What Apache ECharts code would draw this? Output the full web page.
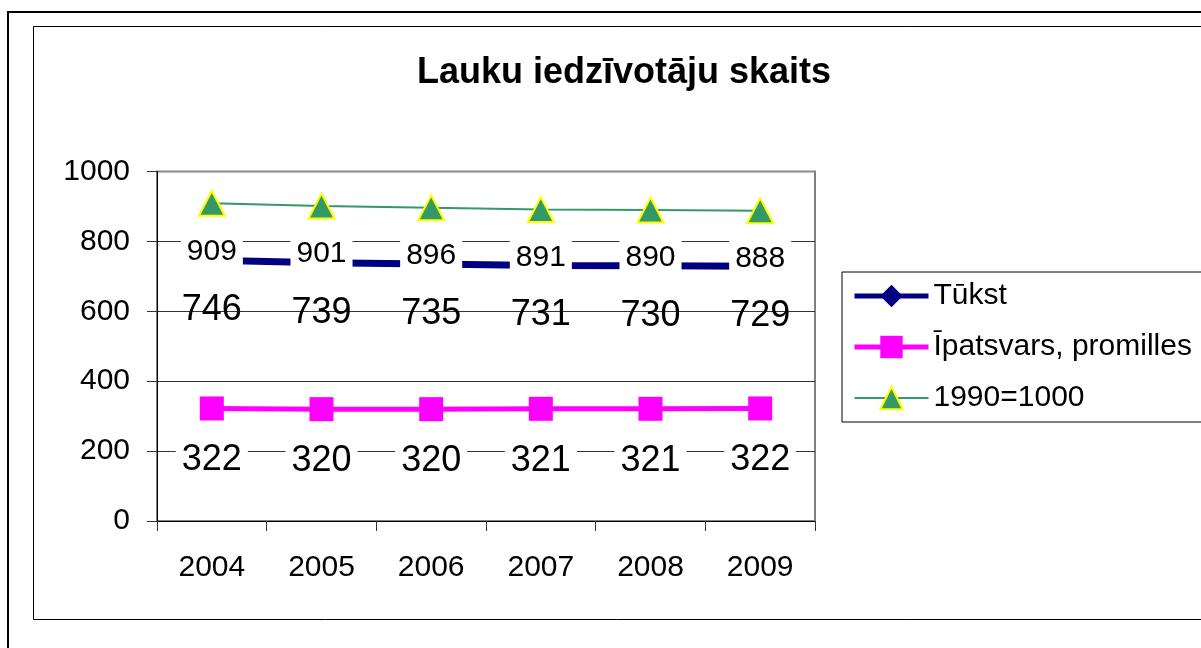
<!DOCTYPE html>
<html>
<head>
<meta charset="utf-8">
<script src="https://cdn.jsdelivr.net/npm/echarts@6/dist/echarts.min.js"></script>
<style>
  html, body { margin: 0; padding: 0; background: #fff; }
  #main { width: 1201px; height: 648px; }
</style>
</head>
<body>
<div id="main"></div>
<script>
var years = ['2004', '2005', '2006', '2007', '2008', '2009'];
var tukst = [746, 739, 735, 731, 730, 729];
var ipatsvars = [322, 320, 320, 321, 321, 322];
var index1990 = [909, 901, 896, 891, 890, 888];
var seriesNames = ['Tūkst', 'Īpatsvars, promilles', '1990=1000'];

var font = 'Liberation Sans, Arial, sans-serif';
var myChart = echarts.init(document.getElementById('main'));

var option = {
    backgroundColor: '#fff',
    animation: false,
    title: {
        text: 'Lauku iedzīvotāju skaits',
        left: 417,
        top: 55,
        padding: 0,
        textStyle: {
            fontFamily: font,
            fontSize: 36,
            fontWeight: 'bold',
            color: '#000'
        }
    },
    legend: {
        data: [
            { name: seriesNames[0], lineStyle: { width: 5 } },
            { name: seriesNames[1], lineStyle: { width: 5 } },
            { name: seriesNames[2], lineStyle: { width: 2 } }
        ],
        orient: 'vertical',
        left: 842,
        top: 272,
        padding: [8, 30, 8, 10],
        itemWidth: 74,
        itemHeight: 28,
        itemGap: 19,
        backgroundColor: '#fff',
        borderColor: '#000',
        borderWidth: 1,
        borderRadius: 0,
        textStyle: {
            fontFamily: font,
            fontSize: 30,
            lineHeight: 32,
            color: '#000'
        }
    },
    graphic: [
        {
            type: 'rect',
            shape: { x: 8, y: 12, width: 1300, height: 700 },
            style: { fill: 'none', stroke: '#000', lineWidth: 2 },
            silent: true, z: -10
        },
        {
            type: 'rect',
            shape: { x: 33.5, y: 26.5, width: 1300, height: 593 },
            style: { fill: 'none', stroke: '#000', lineWidth: 1 },
            silent: true, z: -10
        }
    ],
    grid: {
        left: 157,
        top: 171.5,
        right: 386,
        bottom: 127,
        show: true,
        borderColor: '#808080',
        borderWidth: 2,
        backgroundColor: '#fff'
    },
    xAxis: {
        type: 'category',
        data: years,
        boundaryGap: true,
        axisLine: { lineStyle: { color: '#000', width: 1 } },
        axisTick: { show: true, length: 10, lineStyle: { color: '#333' } },
        axisLabel: {
            margin: 32,
            fontFamily: font,
            fontSize: 30,
            color: '#000'
        }
    },
    yAxis: {
        type: 'value',
        min: 0,
        max: 1000,
        interval: 200,
        axisLine: { show: true, lineStyle: { color: '#000', width: 1 } },
        axisTick: { show: true, length: 10, lineStyle: { color: '#333' } },
        axisLabel: {
            margin: 27,
            fontFamily: font,
            fontSize: 30,
            color: '#000',
            formatter: function (v) { return String(v); }
        },
        splitLine: {
            lineStyle: { color: ['#333', '#333', '#333', '#333', '#333', '#909090'], width: 1 }
        }
    },
    series: [
        {
            name: seriesNames[0],
            type: 'line',
            z: 2,
            data: tukst,
            symbol: 'diamond',
            symbolSize: 16,
            itemStyle: { color: '#000080' },
            lineStyle: { color: '#000080', width: 7 },
            label: {
                show: true,
                position: 'inside',
                offset: [0, 50],
                fontFamily: font,
                fontSize: 36,
                color: '#000'
            }
        },
        {
            name: seriesNames[1],
            type: 'line',
            z: 2,
            data: ipatsvars,
            symbol: 'rect',
            symbolSize: 24,
            itemStyle: { color: '#ff00ff' },
            lineStyle: { color: '#ff00ff', width: 5 },
            label: {
                show: true,
                position: 'inside',
                offset: [0, 52],
                fontFamily: font,
                fontSize: 36,
                color: '#000',
                backgroundColor: '#fff',
                padding: [0, 6, 0, 6]
            }
        },
        {
            name: seriesNames[2],
            type: 'line',
            z: 3,
            data: index1990,
            symbol: 'triangle',
            symbolSize: [26, 25],
            itemStyle: { color: '#339966', borderColor: '#ffff00', borderWidth: 2 },
            lineStyle: { color: '#339966', width: 2 },
            label: {
                show: true,
                position: 'inside',
                offset: [0, 48],
                fontFamily: font,
                fontSize: 30,
                color: '#000',
                backgroundColor: '#fff',
                padding: [2, 6, 6, 6]
            }
        }
    ]
};
myChart.setOption(option);
</script>
</body>
</html>
